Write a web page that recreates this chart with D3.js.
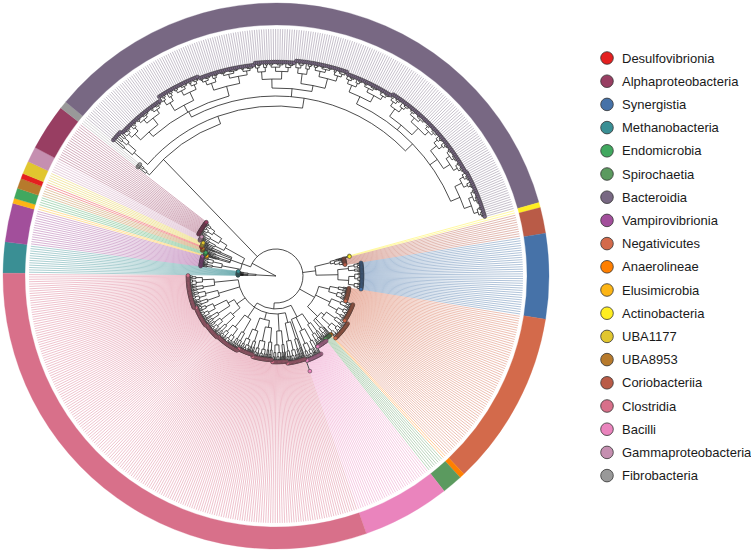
<!DOCTYPE html>
<html><head><meta charset="utf-8">
<script src="https://cdn.jsdelivr.net/npm/d3@7/dist/d3.min.js"></script>
<style>body{margin:0;background:#fff} svg{display:block}</style>
</head><body>
<svg id="chart" width="751" height="553"></svg>
<script>
// ---- legend / classes ----
const classNames = ["Desulfovibrionia","Alphaproteobacteria","Synergistia","Methanobacteria","Endomicrobia","Spirochaetia","Bacteroidia","Vampirovibrionia","Negativicutes","Anaerolineae","Elusimicrobia","Actinobacteria","UBA1177","UBA8953","Coriobacteriia","Clostridia","Bacilli","Gammaproteobacteria","Fibrobacteria"];
const classColors = ["#e41f1f","#983e62","#4672a8","#3a8f94","#41a85f","#5b9a5f","#786883","#a24f9b","#d36a4b","#ff7f00","#fdb515","#ffee22","#e1c62f","#b77a2c","#b95b47","#d8708a","#ea84bd","#c58fb0","#999999"];

// ---- tree: clades {r: node radius, c: children, a: optional stem angle};
// leaf groups: [class, number of tips, stem radius, tip radius] ----
const methanoClade = ["Methanobacteria", 12, 20, 38];
const leftClade = {r: 36, c: [
  ["Vampirovibrionia", 15, 55, 76],
  {r: 48, c: [["Elusimicrobia", 2, 62, 72], ["Endomicrobia", 4, 60, 74], ["UBA8953", 4, 64, 78], ["Desulfovibrionia", 2, 66, 80], ["UBA1177", 5, 60, 80]]},
  {r: 58, c: [["Gammaproteobacteria", 6, 68, 84], ["Alphaproteobacteria", 18, 66, 88]]}
]};
const fcbClade = {r: 162, a: 316, c: [
  ["Fibrobacteria", 3, 166, 176],
  {r: 170, c: [
    ["Bacteroidia", 6, 188, 212],
    {r: 180, c: [
      {r: 186, c: [["Bacteroidia", 25, 192, 210], ["Bacteroidia", 22, 194, 214], ["Bacteroidia", 28, 196, 212]]},
      {r: 188, c: [["Bacteroidia", 20, 197, 214], ["Bacteroidia", 26, 194, 216]]},
      {r: 190, c: [["Bacteroidia", 24, 198, 214], ["Bacteroidia", 30, 196, 216], ["Bacteroidia", 22, 199, 216], ["Bacteroidia", 24, 200, 217]]}
    ]}
  ]}
]};
const rightClade = {r: 40, c: [
  {r: 56, c: [["Actinobacteria", 2, 62, 76], ["Coriobacteriia", 10, 60, 70]]},
  ["Synergistia", 33, 62, 86]
]};
const negClade = {r: 44, c: [
  ["Negativicutes", 20, 55, 74],
  ["Negativicutes", 24, 60, 82],
  {r: 58, c: [["Negativicutes", 24, 62, 86], ["Anaerolineae", 2, 70, 80], ["Spirochaetia", 8, 68, 80]]}
]};
const firmClade = {r: 33, c: [
  {r: 46, c: [["Bacilli", 14, 58, 82], ["Bacilli", 19, 60, 90], ["Bacilli", 1, 60, 101]]},
  {r: 38, c: [
    ["Clostridia", 22, 48, 88],
    ["Clostridia", 18, 55, 86],
    {r: 45, c: [["Clostridia", 25, 52, 84], ["Clostridia", 20, 58, 82]]},
    ["Clostridia", 30, 50, 84],
    {r: 48, c: [["Clostridia", 20, 58, 85], ["Clostridia", 25, 55, 86]]},
    ["Clostridia", 20, 60, 88],
    ["Clostridia", 20, 62, 88]
  ]}
]};
const treeSpec = {r: 0, c: [methanoClade, {r: 27, a: 298, c: [leftClade, fcbClade, rightClade, negClade, firmClade]}]};
const startAngleDeg = 270.6;   // angle of first tip slot (clockwise from 12 o'clock)

// ---- geometry ----
const cx = 276, cy = 276;
const tipLineEnd = 247, ringInner = 251, ringOuter = 273;

const colorOf = d3.scaleOrdinal().domain(classNames).range(classColors);

function split(cls, n, r, tip, d) {
  if (n === 1) return {cls, r: tip};
  const a = Math.max(1, Math.floor(n * (d % 2 ? 0.62 : 0.38)));
  const rc = r + (tip - r) * 0.45;
  return {r, children: [split(cls, a, rc, tip, d + 1), split(cls, n - a, rc, tip, d + 1)]};
}
function expand(spec) {
  if (Array.isArray(spec)) {
    const [cls, n, stem, tip] = spec;
    return split(cls, n, stem, tip, 0);
  }
  return {r: spec.r, fixA: spec.a, children: spec.c.map(expand)};
}
const root = d3.hierarchy(expand(treeSpec));
const leaves = root.leaves();
const N = leaves.length;
const toRad = d => d * Math.PI / 180;
const angle = d3.scaleLinear().domain([0, N]).range([startAngleDeg, startAngleDeg + 360].map(toRad));
const rScale = d3.scaleLinear().domain([0, 250]).range([0, 250]);

leaves.forEach((l, i) => { l.a = angle(i + 0.5); });
root.eachAfter(n => {
  if (n.children) {
    n.a = (n.children[0].a + n.children[n.children.length - 1].a) / 2;
    if (n.data.fixA !== undefined) {
      let fa = toRad(n.data.fixA);
      while (fa < n.children[0].a - Math.PI) fa += 2 * Math.PI;
      n.a = fa;
    }
  }
});
const px = (a, r) => [rScale(r) * Math.sin(a), -rScale(r) * Math.cos(a)];

const svg = d3.select("#chart");
const g = svg.append("g").attr("transform", `translate(${cx},${cy})`);

// light guide lines
g.append("g").selectAll("line").data(leaves).join("line")
  .attr("x1", d => px(d.a, d.data.r)[0]).attr("y1", d => px(d.a, d.data.r)[1])
  .attr("x2", d => px(d.a, tipLineEnd)[0]).attr("y2", d => px(d.a, tipLineEnd)[1])
  .attr("stroke", d => colorOf(d.data.cls)).attr("stroke-opacity", 0.42).attr("stroke-width", 1);

// ring segments
const segs = [];
leaves.forEach((l, i) => {
  const last = segs[segs.length - 1];
  if (last && last.cls === l.data.cls) last.end = i + 1;
  else segs.push({cls: l.data.cls, start: i, end: i + 1});
});
const ringArc = d3.arc().innerRadius(ringInner).outerRadius(ringOuter)
  .startAngle(d => angle(d.start)).endAngle(d => angle(d.end));
g.append("g").selectAll("path").data(segs).join("path")
  .attr("d", ringArc).attr("fill", d => colorOf(d.cls)).attr("stroke", d => colorOf(d.cls)).attr("stroke-width", 0.3);

// branches
const branchPath = d3.path();
root.descendants().forEach(n => {
  if (n.parent) {
    const [x1, y1] = px(n.a, n.parent.data.r), [x2, y2] = px(n.a, n.data.r);
    branchPath.moveTo(x1, y1); branchPath.lineTo(x2, y2);
  }
  if (n.children && n.data.r > 0) {
    const a0 = Math.min(n.children[0].a, n.a), a1 = Math.max(n.children[n.children.length - 1].a, n.a);
    const [x0, y0] = px(a0, n.data.r);
    branchPath.moveTo(x0, y0);
    branchPath.arc(0, 0, rScale(n.data.r), a0 - Math.PI / 2, a1 - Math.PI / 2, false);
  }
});
g.append("path").attr("d", branchPath.toString()).attr("fill", "none").attr("stroke", "#111").attr("stroke-width", 0.75);

// tip points
g.append("g").selectAll("circle").data(leaves).join("circle")
  .attr("cx", d => px(d.a, d.data.r)[0]).attr("cy", d => px(d.a, d.data.r)[1])
  .attr("r", 1.9).attr("fill", d => colorOf(d.data.cls)).attr("stroke", "#333").attr("stroke-width", 0.5);

// legend
const ly = d3.scaleLinear().domain([0, 1]).range([58, 81.2]);
const leg = svg.append("g").selectAll("g").data(classNames).join("g")
  .attr("transform", (d, i) => `translate(607,${ly(i)})`);
leg.append("circle").attr("r", 6.3).attr("fill", d => colorOf(d)).attr("stroke", "#333").attr("stroke-width", 0.8);
leg.append("text").attr("x", 15).attr("dy", "0.35em").text(d => d)
  .attr("font-family", "Liberation Sans, Arial, Helvetica, sans-serif").attr("font-size", 13).attr("fill", "#1a1a1a");
</script>
</body></html>
